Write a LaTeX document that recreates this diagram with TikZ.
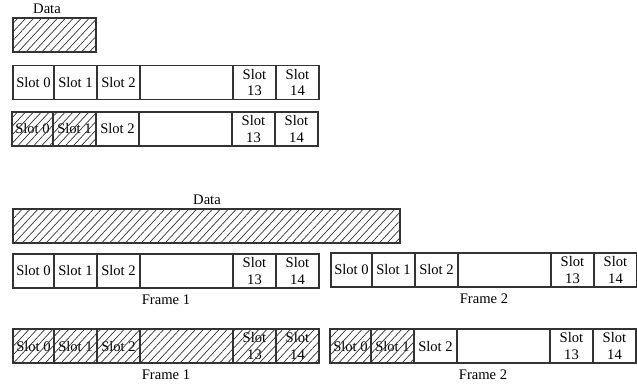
\documentclass[tikz,border=0pt]{standalone}
\usepackage{fontspec}
\setmainfont{Liberation Serif}
\usetikzlibrary{patterns.meta,positioning,calc}
\definecolor{edge}{HTML}{333333}
\tikzset{slot/.style={draw=edge,line width=0.6pt,anchor=west,minimum height=17pt,inner sep=0pt,outer sep=0pt,align=center,font=\fontsize{7.3}{8.2}\selectfont},
  hatch/.style={pattern={Lines[angle=47,distance=2.9pt,line width=0.35pt]},pattern color=edge},
  lbl/.style={font=\fontsize{7.3}{8.2}\selectfont,inner sep=0pt}}

\begin{document}
\begin{tikzpicture}[x=0.5pt,y=-0.5pt]
\useasboundingbox (0,0) rectangle (637,386);
% short data, fits in one frame
\node[slot,hatch,minimum width=41.5pt] (d1) at (13,35) {};
\node[lbl] (d1-lbl) at (47,9) {Data};
% long data, spread over two frames
\node[slot,hatch,minimum width=193.5pt] (d2) at (13,226) {};
\node[lbl] (d2-lbl) at (207,200) {Data};
\foreach \r/\x/\y/\h in {a/13/82.5/0,b/12/129/2,c/13/271/0,d/331/270/0,e/13/346/6,f/330/346/2}{%
  \foreach \s/\o/\w/\t in {0/0/41/Slot 0,1/41/43/Slot 1,2/84/43/Slot 2,3/127/93/,4/220/43/Slot\\13,5/263/43/Slot\\14}{%
    \node[slot,minimum width=\w*0.5pt] (\r\s) at (\x+\o,\y) {\t};
    \ifnum\s<\h \path[hatch] (\r\s.south west) rectangle (\r\s.north east);\fi}}
\foreach \r/\t in {c/Frame 1,d/Frame 2,e/Frame 1,f/Frame 2}
  \path (\r0.south west) -- (\r5.south east) node[lbl,midway,below=3pt] (\r-lbl) {\t};
\end{tikzpicture}
\end{document}
